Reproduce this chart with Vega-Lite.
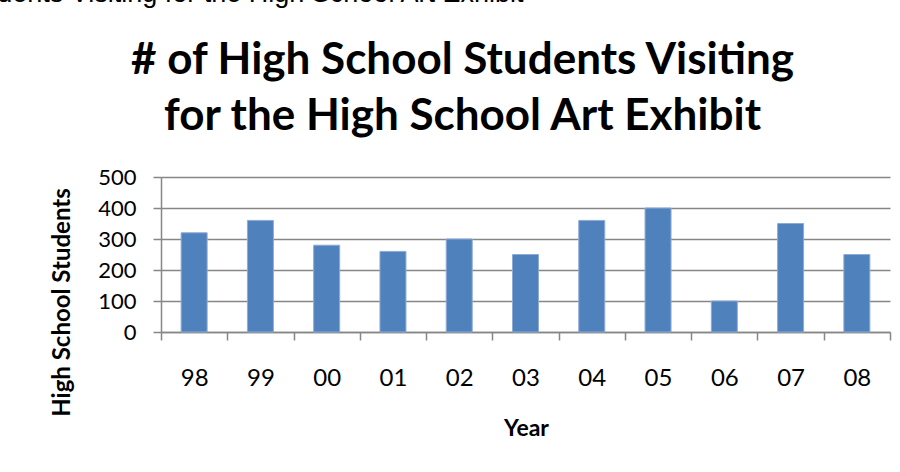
{
  "$schema": "https://vega.github.io/schema/vega-lite/v6.json",
  "width": 729,
  "height": 155,
  "autosize": {"type": "none"},
  "padding": {"left": 161, "top": 177, "right": 10, "bottom": 140},
  "background": "white",
  "title": {
    "text": "# of High School Students Visiting for the High School Art Exhibit",
    "anchor": "start",
    "frame": "group",
    "orient": "top",
    "font": "Liberation Sans",
    "fontSize": 27,
    "fontWeight": "normal",
    "color": "#000000",
    "dx": -410,
    "dy": -9,
    "offset": 0,
    "baseline": "alphabetic"
  },
  "data": {
    "values": [
      {"year": "98", "students": 320},
      {"year": "99", "students": 360},
      {"year": "00", "students": 280},
      {"year": "01", "students": 260},
      {"year": "02", "students": 300},
      {"year": "03", "students": 250},
      {"year": "04", "students": 360},
      {"year": "05", "students": 400},
      {"year": "06", "students": 100},
      {"year": "07", "students": 350},
      {"year": "08", "students": 250}
    ]
  },
  "layer": [
    {
      "mark": {"type": "bar", "color": "#4F81BD", "size": 26, "stroke": "#8EABD6", "strokeWidth": 1},
      "encoding": {
        "x": {
          "field": "year",
          "type": "ordinal",
          "sort": null,
          "scale": {"paddingInner": 0, "paddingOuter": 0},
          "axis": {
            "orient": "bottom",
            "title": "Year",
            "labelAngle": 0,
            "tickBand": "extent",
            "labelFont": "Lato",
            "labelFontSize": 24,
            "labelColor": "#000000",
            "labelPadding": 26,
            "tickSize": 8,
            "tickColor": "#868686",
            "tickWidth": 1.5,
            "domainColor": "#868686",
            "domainWidth": 1.5,
            "titleFont": "Lato",
            "titleFontSize": 23,
            "titleFontWeight": "bold",
            "titleColor": "#000000",
            "titleX": 365,
            "titleY": 103,
            "titleAlign": "center",
            "titleBaseline": "alphabetic"
          }
        },
        "y": {
          "field": "students",
          "type": "quantitative",
          "scale": {"domain": [0, 500]},
          "axis": {
            "values": [0, 100, 200, 300, 400, 500],
            "title": "High School Students",
            "labelFont": "Lato",
            "labelFontSize": 22,
            "labelColor": "#000000",
            "labelPadding": 17,
            "tickSize": 8,
            "tickColor": "#868686",
            "tickWidth": 1.5,
            "domainColor": "#868686",
            "domainWidth": 1.5,
            "gridColor": "#868686",
            "gridWidth": 1.5,
            "titleFont": "Lato",
            "titleFontSize": 24,
            "titleFontWeight": "bold",
            "titleColor": "#000000",
            "titleAngle": -90,
            "titleX": -99,
            "titleY": 125,
            "titleAlign": "center",
            "titleBaseline": "middle"
          }
        }
      }
    },
    {
      "mark": {"type": "rule", "opacity": 0},
      "encoding": {
        "x": {
          "field": "year",
          "type": "ordinal",
          "sort": null,
          "axis": {
            "orient": "top",
            "labels": false,
            "ticks": false,
            "domain": false,
            "grid": false,
            "title": ["# of High School Students Visiting", "for the High School Art Exhibit"],
            "titleFont": "Lato",
            "titleFontSize": 44,
            "titleFontWeight": "bold",
            "titleColor": "#000000",
            "titleX": 301,
            "titleY": -104,
            "titleAlign": "center",
            "titleBaseline": "alphabetic",
            "titleLineHeight": 56,
            "titleLimit": 2000
          }
        }
      }
    }
  ],
  "resolve": {"axis": {"x": "independent"}},
  "config": {"view": {"stroke": null}}
}
